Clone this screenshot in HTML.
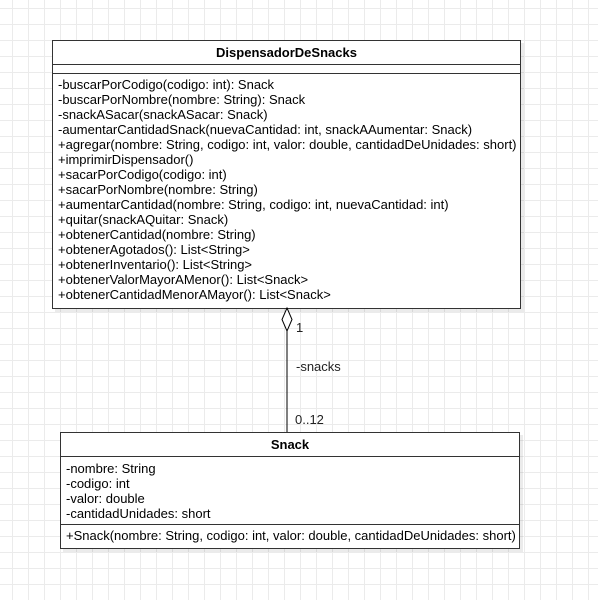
<!DOCTYPE html>
<html><head><meta charset="utf-8"><style>
html,body{margin:0;padding:0}
body{width:598px;height:600px;position:relative;overflow:hidden;background:#fff;
background-image:linear-gradient(#ebebeb 1px,transparent 1px),linear-gradient(90deg,#ebebeb 1px,transparent 1px);
background-size:16px 16px;background-position:0 8px,12px 0;font-family:"Liberation Sans",sans-serif;font-size:13px;color:#000}
.box{position:absolute;background:#fff;border:1px solid #333;box-shadow:3px 3px 0 rgba(0,0,0,0.08)}
.hd{font-weight:bold;text-align:center;border-bottom:1px solid #333;box-sizing:border-box}
.sec{border-bottom:1px solid #333;box-sizing:border-box}
.ln{line-height:15px;white-space:nowrap}
.t{position:absolute;font-size:13px;color:#222}
</style></head><body>
<div class="box" style="left:52px;top:40px;width:467px;height:267px">
 <div class="hd" style="height:24px;line-height:24px">DispensadorDeSnacks</div>
 <div class="sec" style="height:9px"></div>
 <div style="padding:3px 0 0 5px">
  <div class="ln">-buscarPorCodigo(codigo: int): Snack</div>
  <div class="ln">-buscarPorNombre(nombre: String): Snack</div>
  <div class="ln">-snackASacar(snackASacar: Snack)</div>
  <div class="ln">-aumentarCantidadSnack(nuevaCantidad: int, snackAAumentar: Snack)</div>
  <div class="ln">+agregar(nombre: String, codigo: int, valor: double, cantidadDeUnidades: short)</div>
  <div class="ln">+imprimirDispensador()</div>
  <div class="ln">+sacarPorCodigo(codigo: int)</div>
  <div class="ln">+sacarPorNombre(nombre: String)</div>
  <div class="ln">+aumentarCantidad(nombre: String, codigo: int, nuevaCantidad: int)</div>
  <div class="ln">+quitar(snackAQuitar: Snack)</div>
  <div class="ln">+obtenerCantidad(nombre: String)</div>
  <div class="ln">+obtenerAgotados(): List&lt;String&gt;</div>
  <div class="ln">+obtenerInventario(): List&lt;String&gt;</div>
  <div class="ln">+obtenerValorMayorAMenor(): List&lt;Snack&gt;</div>
  <div class="ln">+obtenerCantidadMenorAMayor(): List&lt;Snack&gt;</div>
 </div>
</div>
<svg style="position:absolute;left:0;top:0" width="598" height="600">
 <line x1="287" y1="331" x2="287" y2="432" stroke="#000" stroke-width="1"/>
 <polygon points="287,308 292,319.5 287,331 282,319.5" fill="#fff" stroke="#000" stroke-width="1"/>
</svg>
<div class="t" style="left:296px;top:320px">1</div>
<div class="t" style="left:296px;top:359px">-snacks</div>
<div class="t" style="left:295px;top:412px">0..12</div>
<div class="box" style="left:60px;top:432px;width:458px;height:115px">
 <div class="hd" style="height:24px;line-height:24px">Snack</div>
 <div class="sec" style="height:68px;padding:4px 0 0 5px">
  <div class="ln">-nombre: String</div>
  <div class="ln">-codigo: int</div>
  <div class="ln">-valor: double</div>
  <div class="ln">-cantidadUnidades: short</div>
 </div>
 <div style="padding:3px 0 0 5px"><div class="ln">+Snack(nombre: String, codigo: int, valor: double, cantidadDeUnidades: short)</div></div>
</div>
</body></html>
